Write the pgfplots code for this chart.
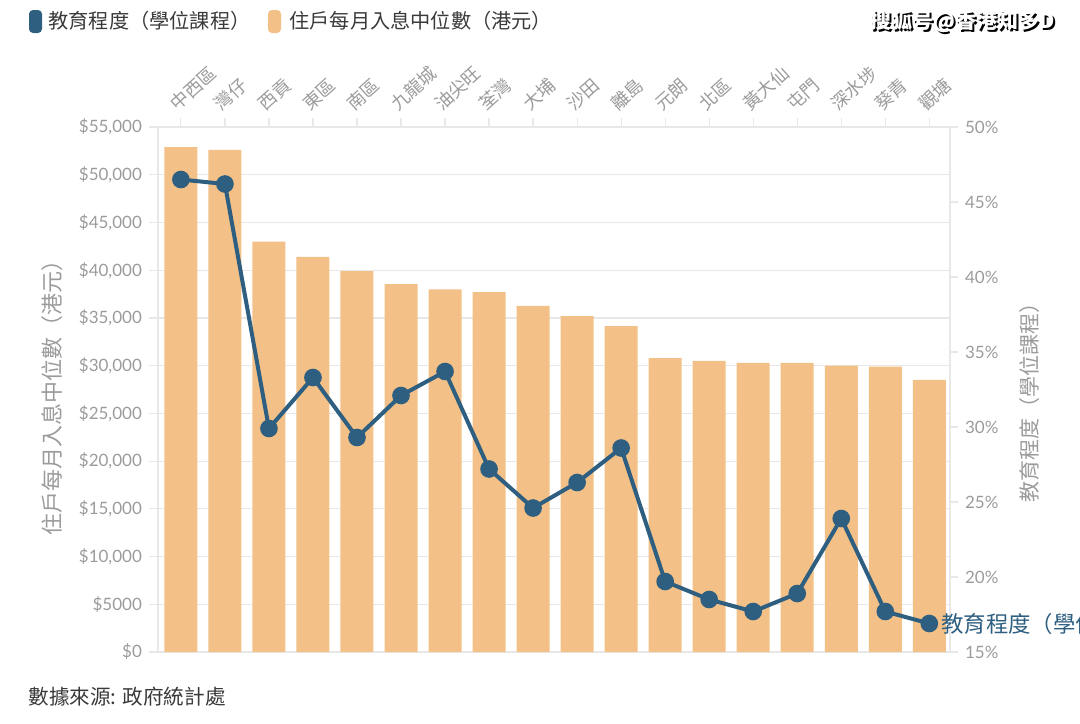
\documentclass[border=0pt]{standalone}
\usepackage{fontspec}
\setmainfont{Lato}
\newfontfamily\cjk{Noto Sans CJK TC}
\usepackage{pgfplots}
\usepackage{pgfplotstable}
\pgfplotsset{compat=1.18}

\definecolor{barc}{HTML}{F3C187}
\definecolor{linec}{HTML}{2F5F80}
\definecolor{tickc}{HTML}{9B9B9B}
\definecolor{gridc}{HTML}{E8E8E8}
\definecolor{darkt}{HTML}{3A3A3A}

% district index, median monthly household income (HKD), degree holders (%)
\pgfplotstableread{
x income edu
0 52900 46.5
1 52600 46.2
2 43000 29.9
3 41400 33.3
4 39900 29.3
5 38550 32.1
6 38000 33.7
7 37700 27.2
8 36250 24.6
9 35200 26.3
10 34150 28.6
11 30800 19.7
12 30500 18.5
13 30300 17.7
14 30300 18.9
15 30000 23.9
16 29900 17.7
17 28500 16.9
}\data

\begin{document}
\begin{tikzpicture}
\useasboundingbox (0pt,0pt) rectangle (540pt,-361.5pt);

\begin{axis}[
    at={(79pt,-326pt)}, anchor=south west,
    scale only axis, width=396pt, height=262.5pt,
    xmin=-0.52, xmax=17.47, ymin=0, ymax=55000,
    axis line style={gridc, line width=0.6pt},
    tick style={gridc, line width=0.6pt},
    tick align=outside, major tick length=4.5pt,
    ymajorgrids, grid style={gridc, line width=0.6pt},
    scaled y ticks=false,
    ytick={0,5000,...,55000},
    yticklabels={\$0,\$5000,{\$10,000},{\$15,000},{\$20,000},{\$25,000},{\$30,000},{\$35,000},{\$40,000},{\$45,000},{\$50,000},{\$55,000}},
    ytick pos=left,
    yticklabel style={font=\fontsize{8.5}{10}\selectfont, text=tickc},
    xtick={0,...,17}, xticklabels={},
    xtick pos=right,
]
\addplot[ybar, bar width=16.5pt, fill=barc, draw=none] table[x=x, y=income] {\data};
\end{axis}

\begin{axis}[
    at={(79pt,-326pt)}, anchor=south west,
    scale only axis, width=396pt, height=262.5pt,
    xmin=-0.52, xmax=17.47, ymin=15, ymax=50,
    clip=false,
    axis x line=none, axis y line*=right,
    axis line style={gridc, line width=0.6pt, -},
    tick style={gridc, line width=0.6pt},
    tick align=outside, major tick length=4pt,
    ytick={15,20,...,50},
    yticklabel={\pgfmathprintnumber{\tick}\%},
    /pgf/number format/assume math mode=true,
    yticklabel style={font=\fontsize{8.5}{10}\selectfont, text=tickc},
]
\addplot[linec, line width=2pt, mark=*, mark size=3.4pt, mark options={fill=linec}] table[x=x, y=edu] {\data};
\node[anchor=west, text=linec, font=\cjk\fontsize{11.2}{13}\selectfont, xshift=2.5pt] at (axis cs:17,16.9) {教育程度（學位課程）};
\end{axis}

% district names above the top ticks
\foreach \i/\lab in {0/中西區,1/灣仔,2/西貢,3/東區,4/南區,5/九龍城,6/油尖旺,7/荃灣,8/大埔,9/沙田,10/離島,11/元朗,12/北區,13/黃大仙,14/屯門,15/深水埗,16/葵青,17/觀塘}
  \node[rotate=42, anchor=south west, inner sep=0pt, text=tickc, font=\cjk\fontsize{9}{10}\selectfont]
    at ({90.45pt+\i*22.012pt-1pt}, -56.5pt) {\lab};

% legend
\fill[linec, rounded corners=2pt] (14.5pt,-5pt) rectangle (21pt,-16.5pt);
\node[anchor=west, text=darkt, font=\cjk\fontsize{10.1}{12}\selectfont, inner sep=0pt] at (24pt,-10.5pt) {教育程度（學位課程）};
\fill[barc, rounded corners=2pt] (134pt,-5pt) rectangle (140.5pt,-16.5pt);
\node[anchor=west, text=darkt, font=\cjk\fontsize{10.1}{12}\selectfont, inner sep=0pt] at (144.5pt,-10.5pt) {住戶每月入息中位數（港元）};

% axis titles
\node[rotate=90, text=tickc, font=\cjk\fontsize{11}{13}\selectfont] at (26pt,-196pt) {住戶每月入息中位數（港元）};
\node[rotate=90, text=tickc, font=\cjk\fontsize{10.5}{12}\selectfont] at (515pt,-198.5pt) {教育程度（學位課程）};

% source and watermark
\node[anchor=west, text=darkt, font=\cjk\fontsize{10.3}{12}\selectfont, inner sep=0pt] at (14pt,-348.5pt) {數據來源: 政府統計處};
\node[text=black, font=\cjk\bfseries\fontsize{10.5}{12}\selectfont] at (482.2pt,-11.6pt) {搜狐号@香港知多D};
\node[text=white, font=\cjk\bfseries\fontsize{10.5}{12}\selectfont] at (481.5pt,-11pt) {搜狐号@香港知多D};
\end{tikzpicture}
\end{document}
